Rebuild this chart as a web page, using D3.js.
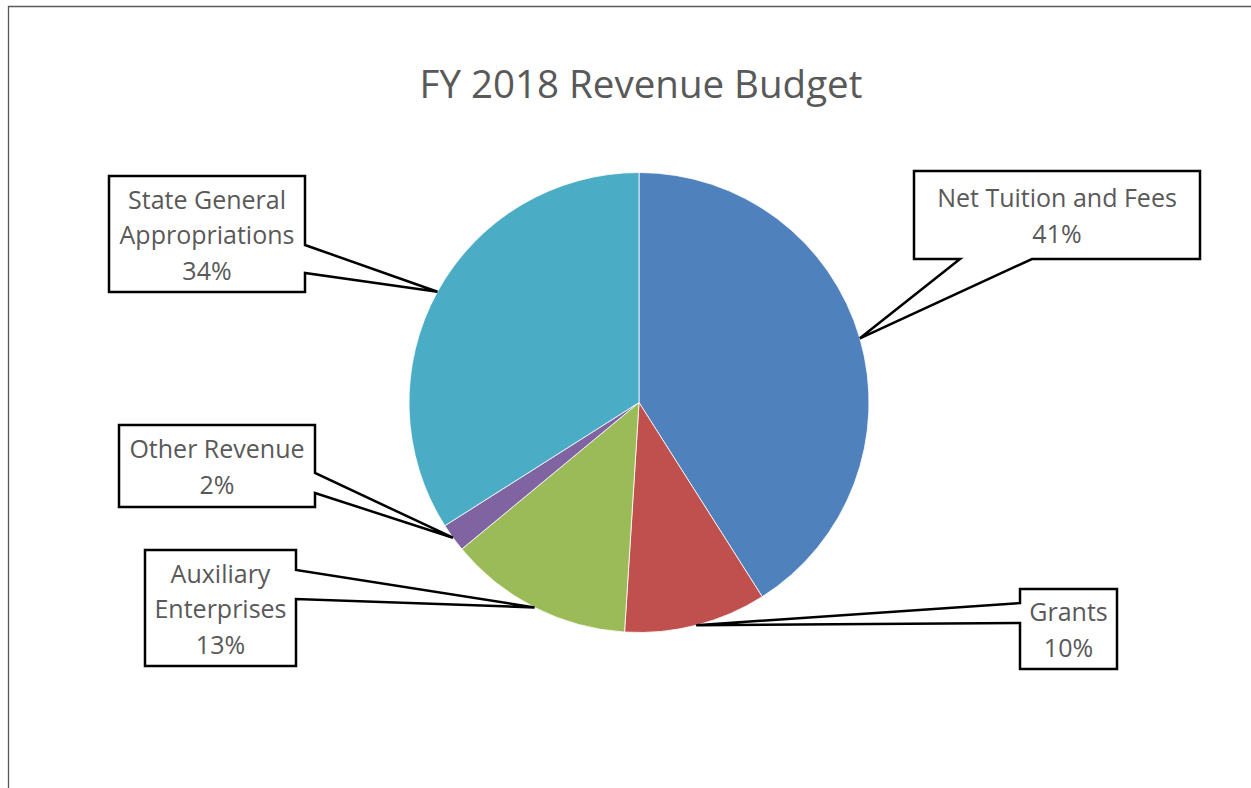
<!DOCTYPE html>
<html>
<head>
<meta charset="utf-8">
<script src="https://cdn.jsdelivr.net/npm/d3@7"></script>
<style>
  html, body { margin: 0; padding: 0; background: #fff; }
  svg { display: block; font-family: "Open Sans", "Noto Sans", sans-serif; }
</style>
</head>
<body>
<div id="chart"></div>
<script>
var categories = ["Net Tuition and Fees", "Grants", "Auxiliary Enterprises", "Other Revenue", "State General Appropriations"];
var shares = [41, 10, 13, 2, 34];
var labelLines = [["Net Tuition and Fees"], ["Grants"], ["Auxiliary", "Enterprises"], ["Other Revenue"], ["State General", "Appropriations"]];
var colors = ["#4F81BD", "#C0504D", "#9BBB59", "#8064A2", "#4BACC6"];
var title = "FY 2018 Revenue Budget";

var RevenuePie = function(opts){
    this.element = opts.elem;
    this.width = 1251;
    this.height = 788;
    this.cx = 639;
    this.cy = 402.5;
    this.radius = 230;
    // callout boxes: x, y, w, h, the side the pointer leaves from, and its base
    this.boxes = [
      {x: 914, y: 171, w: 286, h: 88,  side: 'bottom', b1: 960, b2: 1032},
      {x: 1020, y: 589, w: 97, h: 80,  side: 'left',   b1: 603, b2: 623},
      {x: 145, y: 550, w: 151, h: 116, side: 'right',  b1: 570, b2: 599},
      {x: 119, y: 425, w: 196, h: 82,  side: 'right',  b1: 473, b2: 493},
      {x: 109, y: 176, w: 196, h: 116, side: 'right',  b1: 245, b2: 273}
    ];
}

RevenuePie.prototype.draw = function(){
    this.element.innerHTML = '';
    this.svg = d3.select(this.element).append('svg')
      .attr('width', this.width)
      .attr('height', this.height);

    this.addFrame();
    this.addTitle();
    this.addSlices();
    this.addCallouts();
}

RevenuePie.prototype.addFrame = function(){
    this.svg.append('path')
      .attr('d', 'M8.5,' + this.height + 'V6.5H' + this.width)
      .attr('fill', 'none')
      .attr('stroke', '#595959')
      .attr('stroke-width', 1.3);
}

RevenuePie.prototype.addTitle = function(){
    this.svg.append('text')
      .attr('x', 641)
      .attr('y', 98)
      .attr('text-anchor', 'middle')
      .attr('fill', '#595959')
      .attr('font-size', '38.5px')
      .text(title);
}

RevenuePie.prototype.addSlices = function(){
    var self = this;
    this.pieData = d3.pie().sort(null).value(function(d){ return d; })(shares);
    this.arc = d3.arc().innerRadius(0).outerRadius(this.radius);
    this.tipArc = d3.arc().innerRadius(this.radius).outerRadius(this.radius);

    this.plot = this.svg.append('g')
      .attr('transform', 'translate(' + this.cx + ',' + this.cy + ')');

    this.plot.selectAll('path.slice')
      .data(this.pieData)
      .enter()
      .append('path')
      .attr('class', 'slice')
      .attr('d', this.arc)
      .attr('fill', function(d, i){ return colors[i]; })
      .attr('stroke', '#fff')
      .attr('stroke-width', 0.8);
}

RevenuePie.prototype.calloutPath = function(b, tip){
    var x0 = b.x, y0 = b.y, x1 = b.x + b.w, y1 = b.y + b.h;
    var pts;
    if (b.side === 'bottom') {
      pts = [[x0,y0],[x1,y0],[x1,y1],[b.b2,y1],tip,[b.b1,y1],[x0,y1]];
    } else if (b.side === 'right') {
      pts = [[x0,y0],[x1,y0],[x1,b.b1],tip,[x1,b.b2],[x1,y1],[x0,y1]];
    } else {
      pts = [[x0,y0],[x1,y0],[x1,y1],[x0,y1],[x0,b.b2],tip,[x0,b.b1]];
    }
    return d3.line()(pts) + 'Z';
}

RevenuePie.prototype.addCallouts = function(){
    var self = this;
    var pct = d3.format('.0f');
    var g = this.svg.selectAll('g.callout')
      .data(this.pieData)
      .enter()
      .append('g')
      .attr('class', 'callout');

    g.append('path')
      .attr('d', function(d, i){
        var c = self.tipArc.centroid(d);
        var tip = [self.cx + c[0], self.cy + c[1]];
        return self.calloutPath(self.boxes[i], tip);
      })
      .attr('fill', '#fff')
      .attr('stroke', '#000')
      .attr('stroke-width', 2.5)
      .attr('stroke-linejoin', 'miter');

    var lineH = 35.5;
    g.each(function(d, i){
      var b = self.boxes[i];
      var lines = labelLines[i].concat([pct(d.data) + '%']);
      var top = b.y + b.h / 2 - (lines.length - 1) * lineH / 2;
      var t = d3.select(this).append('text')
        .attr('text-anchor', 'middle')
        .attr('fill', '#595959')
        .attr('font-size', '25px');
      lines.forEach(function(s, k){
        t.append('tspan')
          .attr('x', b.x + b.w / 2)
          .attr('y', top + k * lineH + 1)
          .attr('dy', '0.36em')
          .text(s);
      });
    });
}

var chart = new RevenuePie({elem: document.getElementById('chart')});
chart.draw();
</script>
</body>
</html>
